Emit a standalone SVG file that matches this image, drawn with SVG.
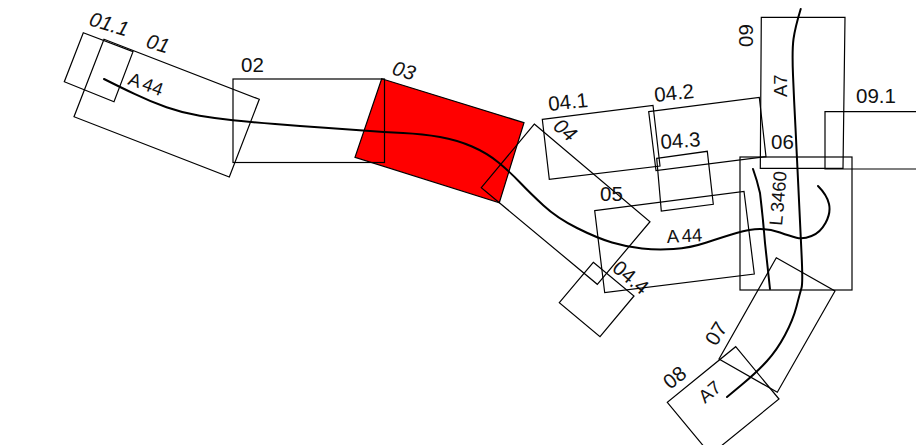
<svg xmlns="http://www.w3.org/2000/svg" width="916" height="445" viewBox="0 0 916 445">
<style>
.b{fill:none;stroke:#000;stroke-width:1.2}
.r{fill:none;stroke:#000;stroke-width:2;stroke-linecap:round;stroke-linejoin:round}
text{font-family:"Liberation Sans",Arial,sans-serif;font-size:20.5px;fill:#111}
.i{font-style:italic}
.s{font-size:18.5px;word-spacing:-1.5px}
</style>
<rect width="916" height="445" fill="#fff"/>
<g id="n03"><polygon points="381.7,78.7 524,122.7 499.3,202.7 355,157.3" fill="#f00" stroke="#000" stroke-width="1.2"/><text class="i" transform="translate(391,74) rotate(17)">03</text></g>
<g id="n01-1"><polygon class="b" points="83.3,32.7 133,51.7 114,101.7 64.3,81.7"/><text class="i" transform="translate(88,25) rotate(17)">01.1</text></g>
<g id="n01"><polygon class="b" points="104,39.3 259.3,99.3 229.3,177 74,116.7"/><text class="i" transform="translate(145,47) rotate(17)">01</text></g>
<g id="n02"><rect class="b" x="233" y="79" width="151.5" height="83.5"/><text x="241" y="72">02</text></g>
<g id="n04"><polygon class="b" points="534.3,124 650,221.7 597.3,284.3 481.3,187.7"/><text class="i" transform="translate(552,128) rotate(40)">04</text></g>
<g id="n04-1"><polygon class="b" points="542.3,119.3 653,105.3 660,166 549.3,179.3"/><text transform="translate(549,111) rotate(-6)">04.1</text></g>
<g id="n04-2"><polygon class="b" points="648.7,111.7 759.3,97.3 766,156.7 656,170.7"/><text transform="translate(655,102) rotate(-6)">04.2</text></g>
<g id="n04-3"><polygon class="b" points="656.7,158.3 707.3,151.3 713.3,204.3 661.3,211"/><text transform="translate(661,149) rotate(-4)">04.3</text></g>
<g id="n04-4"><polygon class="b" points="593.3,262.3 634,296 600,336.7 559.3,302.7"/><text transform="translate(611,270) rotate(40)">04.4</text></g>
<g id="n05"><polygon class="b" points="594.7,210.7 744,191.3 754.3,274 604.7,292.7"/><text x="600" y="201">05</text></g>
<g id="n06"><rect class="b" x="740" y="157" width="112" height="133"/><text x="771" y="149">06</text></g>
<g id="n07"><polygon class="b" points="776.3,257.7 835,291 777.3,392.3 719,359"/><text transform="translate(716,347) rotate(-58)">07</text></g>
<g id="n08"><polygon class="b" points="735.7,346.7 779,399 710.6,454.6 667.3,402.3"/><text transform="translate(670,390) rotate(-38)">08</text></g>
<g id="n09"><polygon class="b" points="761.3,17.3 845,17.3 843,168.3 760.3,168.3"/><text transform="translate(753,47) rotate(-90)">09</text></g>
<g id="n09-1"><path class="b" d="M916 111.7H825V169H916"/><text x="856" y="103">09.1</text></g>
<g id="connectors">
<path class="r" d="M104 79L112 83Q120 87 135 94.2Q150 101.5 166.5 107.2Q183 113 199.7 115.7Q216.5 118.5 233 120.2Q250 122 275 124Q300 126 325 127.7Q350 129.5 366.5 130.7Q383 132 403 133Q423 134 440 137Q457 140 472 146.5Q487 153 498.5 162.5Q510 172 520 182.5Q530 193 543.5 205.5Q557 218 577 228Q597 238 612 242.5Q627 247 642 248.5Q657 250 673.5 249Q690 248 706.5 242.5Q723 237 736.5 233Q750 229 760 229Q770 229 780 232.5Q790 236 796.5 237.7Q803 239.5 811.5 236Q820 233 825.5 223Q831 213 829 204Q827 195 818 186"/>
<path class="r" d="M800.7 9Q795 28 793.5 39Q792 50 793 75Q794 100 795.5 128Q797 157 798.5 190Q800 223 801.5 253Q803 283 801.5 288Q800 293 796.5 306.5Q793 320 785 335Q777 350 767 361Q757 372 742 384.5L727 397"/>
<path class="r" d="M753 169Q757 180 760 193Q763 218 765 243L770 289"/>
<text class="s" transform="translate(127,84) rotate(20)">A 44</text>
<text class="s" transform="translate(667,243) rotate(-3)">A 44</text>
<text class="s" transform="translate(787,97) rotate(-90)">A7</text>
<text class="s" transform="translate(705,404) rotate(-40)">A7</text>
<text class="s" transform="translate(782,226) rotate(-85)">L 3460</text>
</g>
</svg>
